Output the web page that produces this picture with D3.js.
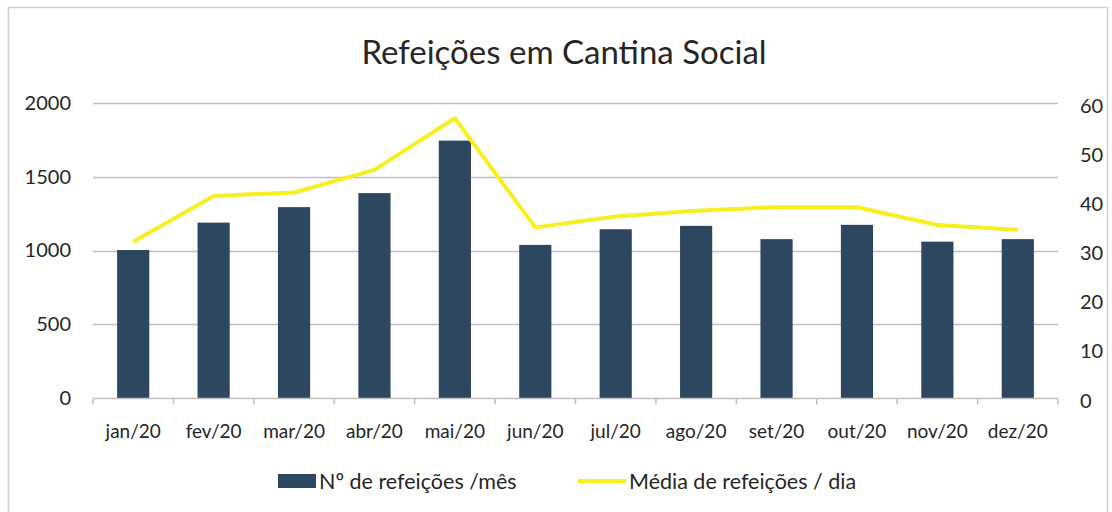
<!DOCTYPE html>
<html>
<head>
<meta charset="utf-8">
<script src="https://cdn.jsdelivr.net/npm/d3@7"></script>
<style>
  body { margin: 0; background: #fff; }
  text { font-family: Lato, "Open Sans", sans-serif; fill: #262626; }
</style>
</head>
<body>
<script>
// meses
var months = ["jan/20", "fev/20", "mar/20", "abr/20", "mai/20", "jun/20",
        "jul/20", "ago/20", "set/20", "out/20", "nov/20", "dez/20"];
// Nº de refeições /mês
var mealsPerMonth = [1003, 1189, 1294, 1389, 1745, 1038, 1144, 1167, 1077, 1174, 1060, 1077];
// Média de refeições / dia
var mealsPerDay = [31.8, 41.1, 41.8, 46.4, 56.9, 34.7, 36.9, 38.1, 38.8, 38.8, 35.2, 34.2];
var leftTicks = [0, 500, 1000, 1500, 2000];
var rightTicks = [0, 10, 20, 30, 40, 50, 60];

var width = 1112,
        height = 512;
var plot = { left: 93, right: 1058, top: 103, bottom: 398 };

var svg = d3.select("body").append("svg")
        .attr("width", width).attr("height", height)

// moldura do gráfico
svg.append("rect").attr("x", 8.5).attr("y", 7.5)
        .attr("width", 1099).attr("height", 520)
        .attr("fill", "none").attr("stroke", "#d0d0d0").attr("stroke-width", 1.5)

svg.append("text")
        .attr("x", 564).attr("y", 64)
        .attr("text-anchor", "middle")
        .style("font-size", "33px")
        .text("Refeições em Cantina Social")

var x = d3.scaleBand().domain(months).range([plot.left, plot.right]).paddingInner(0.6).paddingOuter(0.3)
var xOuter = d3.scaleBand().domain(months).range([plot.left, plot.right])
var yLeft = d3.scaleLinear().domain([0, 2000]).range([plot.bottom, plot.top])
var yRight = d3.scaleLinear().domain([0, 60]).range([plot.bottom, plot.top])

// grelha
svg.append("g").selectAll("line").data(leftTicks.slice(1)).enter().append("line")
        .attr("x1", plot.left).attr("x2", plot.right)
        .attr("y1", d => Math.round(yLeft(d)) + 0.5).attr("y2", d => Math.round(yLeft(d)) + 0.5)
        .attr("stroke", "#bfbfbf").attr("stroke-width", 1.5)

// eixo esquerdo
var axL = svg.append("g").attr("transform", "translate(" + (plot.left - 22) + ",0)")
        .call(d3.axisLeft(yLeft).tickValues(leftTicks).tickFormat(d3.format("d")).tickSize(0).tickPadding(0))
axL.select(".domain").remove()
axL.selectAll("text").style("font-size", "20px").attr("fill", "#262626").attr("dy", "0.32em")

// eixo direito
var axR = svg.append("g").attr("transform", "translate(" + (plot.right + 22) + ",0)")
        .call(d3.axisRight(yRight).tickValues(rightTicks).tickFormat(d3.format("d")).tickSize(0).tickPadding(0))
axR.select(".domain").remove()
axR.selectAll("text").style("font-size", "20px").attr("fill", "#262626").attr("dy", "0.45em")

// barras
svg.append("g").selectAll("rect").data(mealsPerMonth).enter().append("rect")
        .attr("x", (d, i) => x(months[i]))
        .attr("width", x.bandwidth())
        .attr("y", d => yLeft(d))
        .attr("height", d => yLeft(0) - yLeft(d))
        .attr("fill", "#2d4760")

// eixo x
var axX = svg.append("g").attr("transform", "translate(0," + (plot.bottom + 0.5) + ")")
axX.append("line").attr("x1", plot.left).attr("x2", plot.right)
        .attr("stroke", "#bfbfbf").attr("stroke-width", 1.5)
axX.selectAll(".tk").data(months.concat(["end"])).enter().append("line").classed("tk", true)
        .attr("x1", (d, i) => i < months.length ? xOuter(d) : plot.right)
        .attr("x2", (d, i) => i < months.length ? xOuter(d) : plot.right)
        .attr("y1", 0).attr("y2", 6)
        .attr("stroke", "#bfbfbf").attr("stroke-width", 1.5)
axX.selectAll("text").data(months).enter().append("text")
        .attr("x", d => xOuter(d) + xOuter.bandwidth() / 2)
        .attr("y", 39)
        .attr("text-anchor", "middle")
        .style("font-size", "19px")
        .text(d => d)

// linha média diária
var line = d3.line()
        .x((d, i) => xOuter(months[i]) + xOuter.bandwidth() / 2)
        .y(d => yRight(d))
svg.append("path").datum(mealsPerDay)
        .attr("d", line)
        .attr("fill", "none").attr("stroke", "#f7ef1f").attr("stroke-width", 4)
        .attr("stroke-linejoin", "round")

// legenda
var legend = svg.append("g").attr("transform", "translate(0,481)")
legend.append("rect").attr("x", 278).attr("y", -7).attr("width", 38).attr("height", 14).attr("fill", "#2d4760")
legend.append("text").attr("x", 319).attr("y", 0).attr("dy", "0.35em").style("font-size", "21.5px")
        .text("Nº de refeições /mês")
legend.append("line").attr("x1", 578).attr("x2", 626).attr("y1", 0).attr("y2", 0)
        .attr("stroke", "#f7ef1f").attr("stroke-width", 4)
legend.append("text").attr("x", 629).attr("y", 0).attr("dy", "0.35em").style("font-size", "21.5px")
        .text("Média de refeições / dia")
</script>
</body>
</html>
